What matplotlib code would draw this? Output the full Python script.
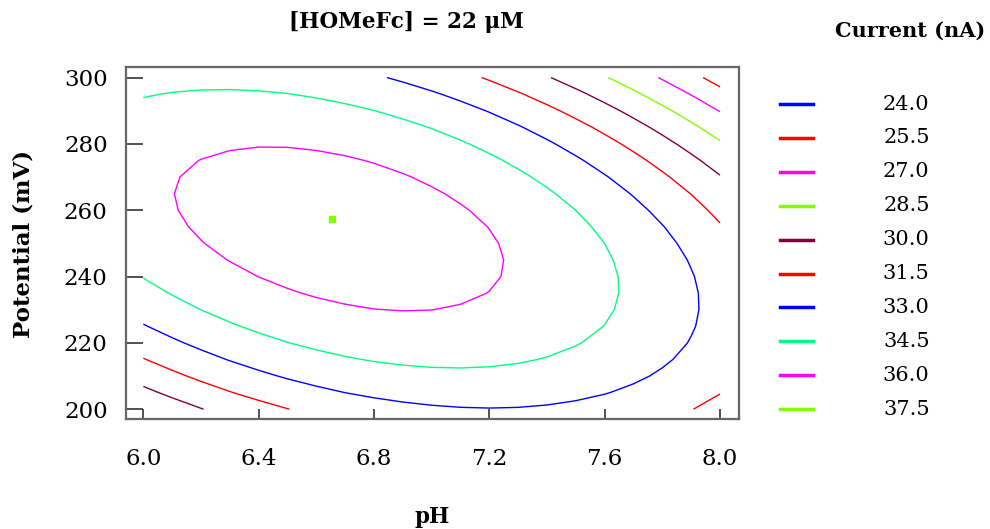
import numpy as np
import matplotlib
matplotlib.use('Agg')
import matplotlib.pyplot as plt
from matplotlib.lines import Line2D

# Konturnivåer och färger (från legenden)
levels = [24.0, 25.5, 27.0, 28.5, 30.0, 31.5, 33.0, 34.5, 36.0, 37.5]
colors = ['#0000ff', '#ff0000', '#ff00ff', '#80ff00', '#800040',
          '#ff0000', '#0000ff', '#00ff80', '#ff00ff', '#80ff00']

# Responsyta (andragradsmodell)
z_center = 36.8      # nA vid mitten
ph_center = 6.68
mv_center = 254.4
k_scale = 2.96
a_ph = 1.0
b_mv = 0.000533
c_cross = 0.0194

# Optimum (den lilla 37.5-punkten)
opt_ph = 6.653
opt_mv = 257.4

# Beräkningsnät, 0.1 pH och 5 mV
ph = np.linspace(6.0, 8.0, 21)
mv = np.linspace(200, 300, 21)
PH, MV = np.meshgrid(ph, mv)
u = PH - ph_center
v = MV - mv_center
Z = z_center - k_scale * (a_ph * u**2 + b_mv * v**2 + c_cross * u * v)

fig = plt.figure(figsize=(9.9, 5.29), dpi=100)
ax = fig.add_axes([0.127, 0.2074, 0.6195, 0.6654])

ax.contour(PH, MV, Z, levels=levels, colors=colors, linewidths=1.0)
ax.plot(opt_ph, opt_mv, 's', color=colors[-1], ms=4.5, mec=colors[-1])

ax.set_xlim(5.939, 8.066)
ax.set_ylim(196.95, 303.1)
ax.set_xticks([6.0, 6.4, 6.8, 7.2, 7.6, 8.0])
ax.set_xticklabels(['6.0', '6.4', '6.8', '7.2', '7.6', '8.0'])
ax.set_yticks([200, 220, 240, 260, 280, 300])
ax.tick_params(axis='x', direction='in', length=7, width=1.2, pad=21,
               labelsize=16.5, colors='#333333', labelcolor='black')
ax.tick_params(axis='y', direction='in', length=12, width=1.2, pad=13,
               labelsize=16.5, colors='#333333', labelcolor='black')
for lbl in ax.get_xticklabels() + ax.get_yticklabels():
    lbl.set_family('DejaVu Serif')
for s in ax.spines.values():
    s.set_color('#666666')
    s.set_linewidth(1.6)

# Rubriker
fig.text(0.411, 0.958, '[HOMeFc] = 22 μM', ha='center', va='center',
         family='DejaVu Serif', weight='bold', fontsize=15.5)
fig.text(0.024, 0.538, 'Potential (mV)', ha='center', va='center', rotation=90,
         family='DejaVu Serif', weight='bold', fontsize=16.5)
fig.text(0.437, 0.022, 'pH', ha='center', va='center',
         family='DejaVu Serif', weight='bold', fontsize=15.5)

# Legend ritad för hand
fig.text(0.919, 0.941, 'Current (nA)', ha='center', va='center',
         family='DejaVu Serif', weight='bold', fontsize=15)
for i, (lev, col) in enumerate(zip(levels, colors)):
    ypx = 104 + i * 33.9
    yf = 1 - ypx / 529
    fig.add_artist(Line2D([0.788, 0.821], [yf, yf], color=col, lw=2.5,
                          transform=fig.transFigure))
    fig.text(0.939, yf, '%.1f' % lev, ha='right', va='center',
             family='DejaVu Serif', fontsize=15)

fig.savefig('out.png', dpi=100)
